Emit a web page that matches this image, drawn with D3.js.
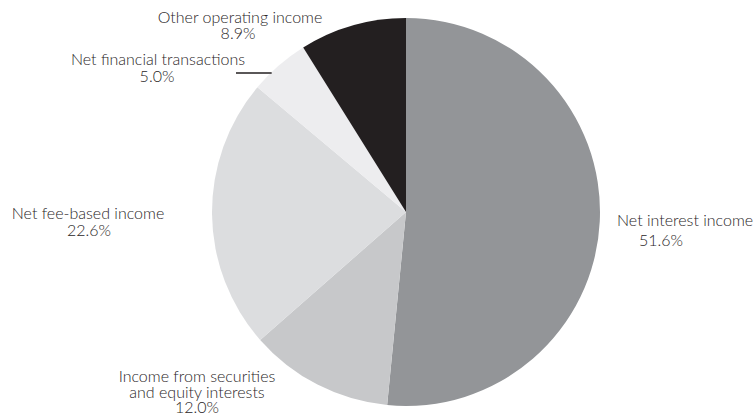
<!DOCTYPE html>
<html>
<head>
<meta charset="utf-8">
<script src="https://cdn.jsdelivr.net/npm/d3@7"></script>
<style>
  html, body { margin: 0; padding: 0; background: #fff; }
  svg { display: block; }
  text { font-family: "Lato", "Open Sans", sans-serif; font-weight: 300; fill: #2a2627; font-size: 16px; }
</style>
</head>
<body>
<svg id="chart" width="755" height="414"></svg>
<script>
// Income breakdown, clockwise from 12 o'clock
const categories = [
  "Net interest income",
  "Income from securities and equity interests",
  "Net fee-based income",
  "Net financial transactions",
  "Other operating income"
];
const shares = [51.6, 12.0, 22.6, 5.0, 8.9];
const sliceColors = ["#939598", "#c7c8ca", "#dcdddf", "#ededef", "#231f20"];
// how each category name breaks across lines
const nameLines = [
  ["Net interest income"],
  ["Income from securities", "and equity interests"],
  ["Net fee-based income"],
  ["Net financial transactions"],
  ["Other operating income"]
];

// label placement: one [x, baseline, anchor] per line (name lines then value line)
const labelPlacement = [
  [[617, 226, "start"], [661, 246, "middle"]],
  [[197, 382, "middle"], [197, 398, "middle"], [197, 413, "middle"]],
  [[88, 219, "middle"], [89, 236, "middle"]],
  [[158, 65, "middle"], [157, 82, "middle"]],
  [[240, 23, "middle"], [238, 39, "middle"]]
];

const cx = 406, cy = 212, radius = 194;

const svg = d3.select("#chart");
const g = svg.append("g").attr("transform", `translate(${cx},${cy})`);

const pie = d3.pie().sort(null).value(d => d.value);
const arc = d3.arc().innerRadius(0).outerRadius(radius);

const data = categories.map((c, i) => ({ name: c, value: shares[i], color: sliceColors[i], lines: nameLines[i], place: labelPlacement[i] }));

g.selectAll("path.slice")
  .data(pie(data))
  .join("path")
  .attr("class", "slice")
  .attr("d", arc)
  .attr("fill", d => d.data.color);

const fmt = d3.format(".1f");

data.forEach(d => {
  const texts = d.lines.concat([fmt(d.value) + "%"]);
  texts.forEach((t, j) => {
    const [x, y, anchor] = d.place[j];
    svg.append("text")
      .attr("x", x)
      .attr("y", y)
      .attr("text-anchor", anchor)
      .text(t);
  });
});

// leader line from the "Net financial transactions" label to the pie edge
const leaderY = 73;
const edgeX = cx - Math.sqrt(radius * radius - (cy - leaderY) * (cy - leaderY));
svg.append("line")
  .attr("x1", 236).attr("y1", leaderY)
  .attr("x2", edgeX + 1).attr("y2", leaderY)
  .attr("stroke", "#231f20")
  .attr("stroke-width", 1.5);
</script>
</body>
</html>
